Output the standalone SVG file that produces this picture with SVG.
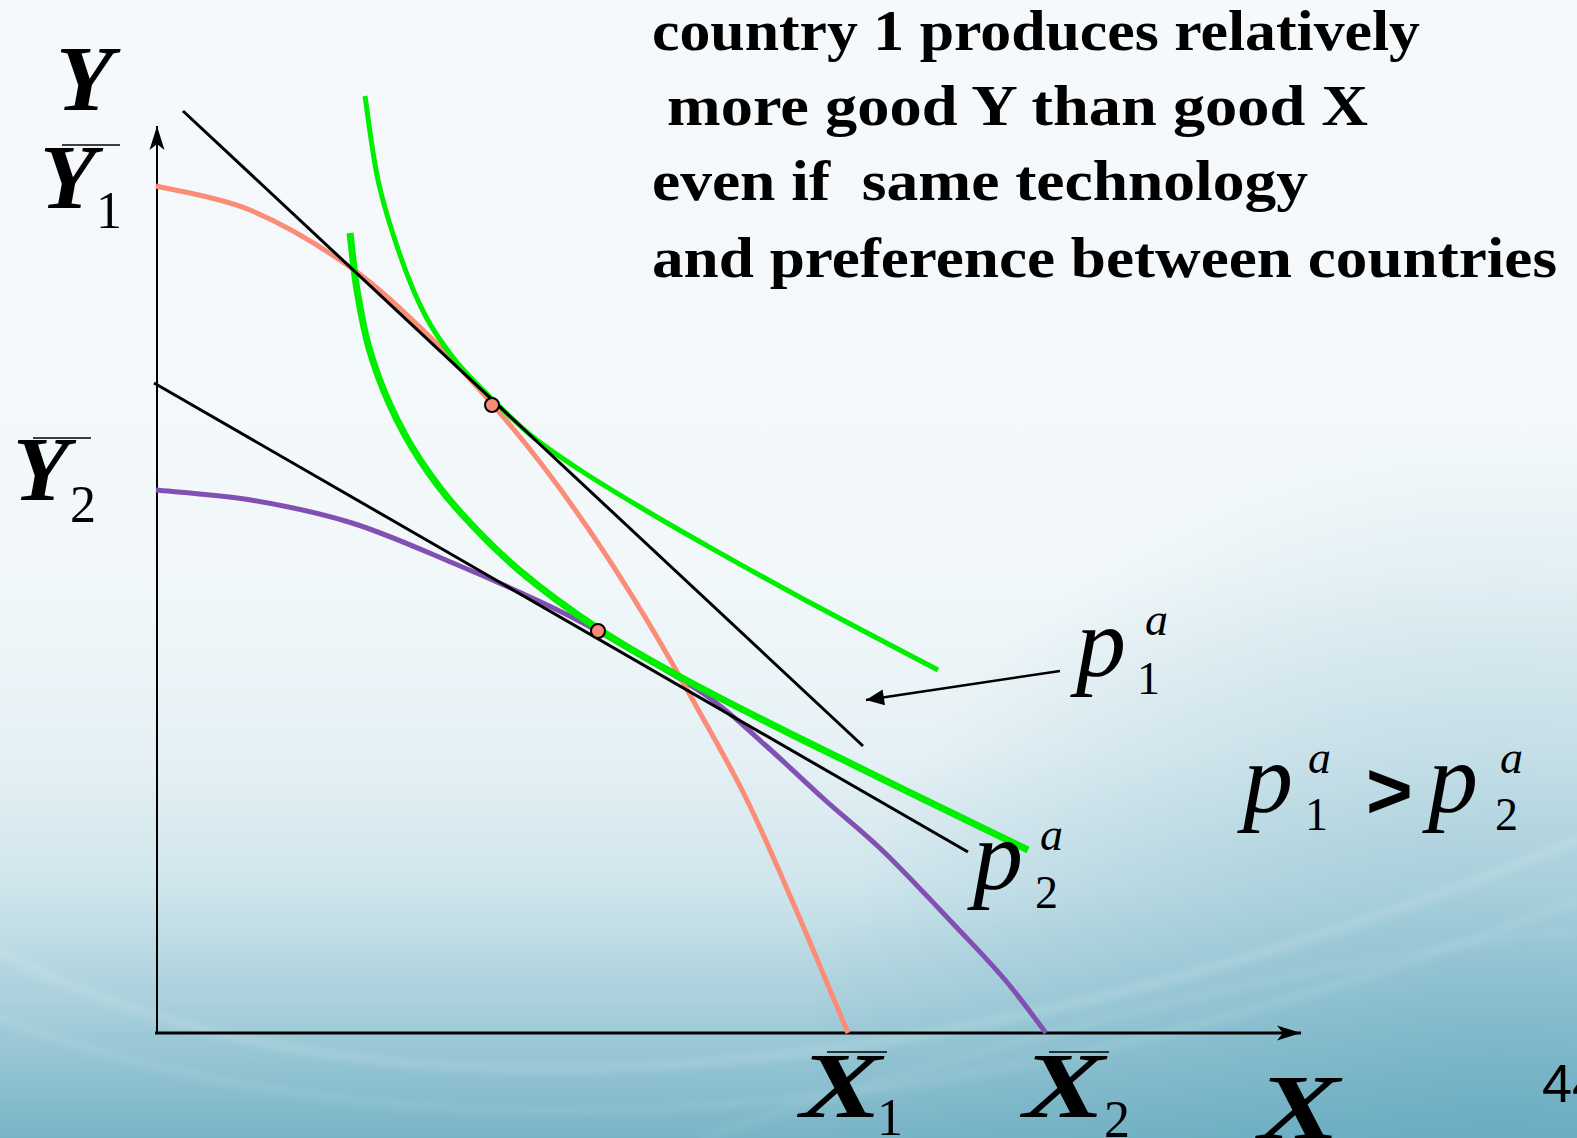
<svg xmlns="http://www.w3.org/2000/svg" width="1577" height="1138" viewBox="0 0 1577 1138">
<defs>
<linearGradient id="bg" x1="0" y1="0" x2="0" y2="1">
<stop offset="0" stop-color="#F6F9FC"/>
<stop offset="0.5" stop-color="#F2F8FA"/>
<stop offset="0.66" stop-color="#E6F1F5"/>
<stop offset="0.78" stop-color="#CFE5EC"/>
<stop offset="0.88" stop-color="#A9D0DC"/>
<stop offset="1" stop-color="#78B4C6"/>
</linearGradient>
<radialGradient id="shade" cx="1500" cy="1138" r="700" gradientUnits="userSpaceOnUse">
<stop offset="0" stop-color="#5FA6BD" stop-opacity="0.55"/>
<stop offset="1" stop-color="#5FA6BD" stop-opacity="0"/>
</radialGradient>
<filter id="soft" x="-10%" y="-10%" width="120%" height="120%"><feGaussianBlur stdDeviation="4"/></filter>
<marker id="stealth" viewBox="-26 -9 28 18" refX="0" refY="0" markerWidth="28" markerHeight="18" markerUnits="userSpaceOnUse" orient="auto">
<path d="M0,0 L-24,-7.5 L-18,0 L-24,7.5 Z" fill="#000"/>
</marker>
<marker id="tri" viewBox="-20 -10 22 20" refX="0" refY="0" markerWidth="22" markerHeight="20" markerUnits="userSpaceOnUse" orient="auto">
<path d="M0,0 L-18,-8 L-18,8 Z" fill="#000"/>
</marker>
</defs>
<style>
.curve{fill:none;stroke-linecap:butt;stroke-linejoin:round}
.ppf1{stroke:#FA8C78;stroke-width:5}
.ppf2{stroke:#8250B2;stroke-width:5}
.ic1{stroke:#00EE00;stroke-width:5}
.ic2{stroke:#00EE00;stroke-width:7}
.price{stroke:#000;stroke-width:3;fill:none}
.axis{stroke:#000;fill:none}
.pt{fill:#F98B75;stroke:#000;stroke-width:2}
.math{font-family:"Liberation Serif","Times New Roman",serif;font-style:italic;fill:#000}
.num{font-family:"Liberation Serif","Times New Roman",serif;fill:#000}
.body{font-family:"Liberation Serif","Times New Roman",serif;font-weight:bold;font-size:57px;fill:#000}
.bar{stroke:#000;stroke-width:1.6}
</style>
<rect width="1577" height="1138" fill="url(#bg)"/>
<rect width="1577" height="1138" fill="url(#shade)"/>
<g fill="none" stroke="#FFFFFF" filter="url(#soft)">
<path d="M-20,940 C300,1130 900,1120 1577,840" stroke-width="5" stroke-opacity="0.25"/>
<path d="M-20,1010 C400,1180 1000,1130 1577,900" stroke-width="4" stroke-opacity="0.2"/>
<path d="M700,1138 C1000,1040 1300,960 1577,930" stroke-width="3" stroke-opacity="0.18"/>
</g>

<g id="axes">
<line class="axis" x1="157" y1="1034" x2="157" y2="126" stroke-width="2" marker-end="url(#stealth)"/>
<line class="axis" x1="155" y1="1033" x2="1301" y2="1033" stroke-width="3" marker-end="url(#stealth)"/>
</g>

<g id="ppf-country2">
<path class="curve ppf2" d="M156,490 C171.8,491.7 218.3,494.5 251,500 C283.7,505.5 318.3,512.5 352,523 C385.7,533.5 421.2,549.7 453,563 C484.8,576.3 518,591.2 543,603 C568,614.8 576.2,618.8 603,634 C629.8,649.2 677.2,675.7 704,694 C730.8,712.3 743.8,726.3 764,744 C784.2,761.7 804.8,781.8 825,800 C845.2,818.2 862.3,831 885,853 C907.7,875 940.8,910.7 961,932 C981.2,953.3 991.8,964.2 1006,981 C1020.2,997.8 1039.3,1024.3 1046,1033"/>
</g>

<g id="ppf-country1">
<path class="curve ppf1" d="M156,186 C171.7,190 217.7,196.5 250,210 C282.3,223.5 320,245.8 350,267 C380,288.2 406.2,314 430,337 C453.8,360 472.5,381.7 493,405 C557,478 621,571 685,686 C702.3,717.5 725.8,757.5 744,794 C762.2,830.5 776.7,865.2 794,905 C811.3,944.8 839,1011.7 848,1033"/>
</g>

<g id="ic-1">
<path class="curve ic1" d="M365,96 C367.2,110 372.2,153.5 378,180 C383.8,206.5 392.2,232.5 400,255 C407.8,277.5 415.8,297.5 425,315 C434.2,332.5 443.7,345.8 455,360 C466.3,374.2 480,387.2 493,400 C506,412.8 518.5,425.3 533,437 C547.5,448.7 562.2,458.3 580,470 C597.8,481.7 619.3,494.7 640,507 C660.7,519.3 676.5,528.5 704,544 C731.5,559.5 766,579 805,600 C844,621 915.8,658.3 938,670"/>
</g>

<g id="ic-2">
<path class="curve ic2" d="M350,233 C351.2,242.5 353.8,270.8 357,290 C360.2,309.2 363.5,328.8 369,348 C374.5,367.2 381.5,386.3 390,405 C398.5,423.7 408.3,442.2 420,460 C431.7,477.8 443.3,493.5 460,512 C476.7,530.5 496.7,551.3 520,571 C543.3,590.7 572.7,612 600,630 C627.3,648 649.8,660.5 684,679 C718.2,697.5 747.7,712.5 805,741 C862.3,769.5 990.8,831.8 1028,850"/>
</g>

<g id="price-line-1">
<line class="price" x1="183" y1="111" x2="863" y2="746"/>
</g>
<g id="price-line-2">
<line class="price" x1="154" y1="383" x2="968" y2="852"/>
</g>

<g id="equilibrium-1"><circle class="pt" cx="492" cy="405" r="7"/></g>
<g id="equilibrium-2"><circle class="pt" cx="598" cy="631" r="7"/></g>

<g id="connectors">
<line x1="1060" y1="671" x2="866" y2="700" stroke="#000" stroke-width="2.5" marker-end="url(#tri)"/>
</g>

<g id="label-Y">
<text class="math" x="56" y="110" font-size="94" font-weight="bold">Y</text>
</g>
<g id="label-Y1bar">
<text class="math" x="40" y="208" font-size="92" font-weight="bold">Y</text>
<line class="bar" x1="62" y1="145" x2="120" y2="145"/>
<text class="num" x="96" y="228" font-size="52">1</text>
</g>
<g id="label-Y2bar">
<text class="math" x="13" y="500" font-size="92" font-weight="bold">Y</text>
<line class="bar" x1="33" y1="438" x2="91" y2="438"/>
<text class="num" x="70" y="522" font-size="52">2</text>
</g>
<g id="label-X1bar">
<text class="math" x="800" y="1117" font-size="94" font-weight="bold" textLength="82" lengthAdjust="spacingAndGlyphs">X</text>
<line class="bar" x1="827" y1="1052" x2="887" y2="1052"/>
<text class="num" x="877" y="1135" font-size="52">1</text>
</g>
<g id="label-X2bar">
<text class="math" x="1023" y="1117" font-size="94" font-weight="bold" textLength="82" lengthAdjust="spacingAndGlyphs">X</text>
<line class="bar" x1="1049" y1="1052" x2="1109" y2="1052"/>
<text class="num" x="1104" y="1137" font-size="52">2</text>
</g>
<g id="label-X">
<text class="math" x="1258" y="1139" font-size="94" font-weight="bold" textLength="82" lengthAdjust="spacingAndGlyphs">X</text>
</g>

<g id="label-p1a">
<text class="math" x="1076" y="676" font-size="100">p</text>
<text class="num" x="1137" y="694" font-size="46">1</text>
<text class="math" x="1145" y="635" font-size="46">a</text>
</g>
<g id="label-p2a">
<text class="math" x="973" y="889" font-size="100">p</text>
<text class="num" x="1035" y="908" font-size="46">2</text>
<text class="math" x="1040" y="850" font-size="46">a</text>
</g>
<g id="label-inequality">
<text class="math" x="1243" y="812" font-size="100">p</text>
<text class="num" x="1305" y="830" font-size="46">1</text>
<text class="math" x="1308" y="773" font-size="46">a</text>
<text x="1366" y="818" font-family="Liberation Sans, Arial, sans-serif" font-weight="bold" font-size="80" fill="#000">&gt;</text>
<text class="math" x="1428" y="812" font-size="100">p</text>
<text class="num" x="1495" y="830" font-size="46">2</text>
<text class="math" x="1500" y="773" font-size="46">a</text>
</g>

<g id="caption">
<text class="body" x="652" y="50" textLength="768" lengthAdjust="spacingAndGlyphs">country 1 produces relatively</text>
<text class="body" x="667" y="125" textLength="701" lengthAdjust="spacingAndGlyphs">more good Y than good X</text>
<text class="body" x="652" y="200" textLength="656" lengthAdjust="spacingAndGlyphs" xml:space="preserve">even if  same technology</text>
<text class="body" x="652" y="277" textLength="905" lengthAdjust="spacingAndGlyphs">and preference between countries</text>
</g>

<g id="page-number">
<text x="1542" y="1102" font-family="Liberation Sans, Arial, sans-serif" font-size="54" fill="#000">44</text>
</g>
</svg>
